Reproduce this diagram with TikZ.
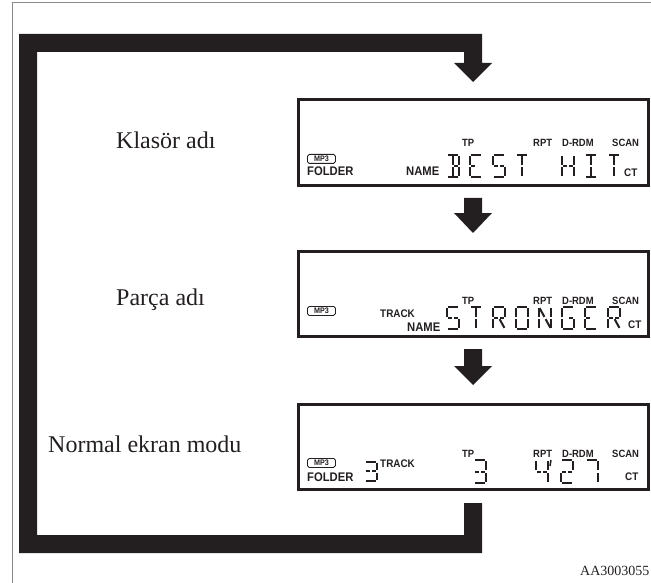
\documentclass[tikz,border=0pt]{standalone}
\usepackage{fontspec}
\setmainfont{Liberation Serif}
\newfontfamily\lcdfont[FakeStretch=0.9]{Liberation Sans}
\definecolor{ink}{HTML}{231F20}
\definecolor{framegray}{HTML}{8A8A8A}
\tikzset{
  lcdbox/.style={draw=ink, line width=2.8pt, inner sep=0pt, anchor=north west},
  seg/.style={ink, line width=2pt, shorten <=1.3pt, shorten >=1.3pt},
  lcdlab/.style={text=ink, inner sep=0pt, anchor=base west, font=\lcdfont\bfseries\fontsize{10.5}{10.5}\selectfont},
  lcdmid/.style={lcdlab, font=\lcdfont\bfseries\fontsize{11}{11}\selectfont},
  lcdbig/.style={lcdlab, font=\lcdfont\bfseries\fontsize{12.5}{12.5}\selectfont},
  mpbox/.style={draw=ink, line width=0.9pt, rounded corners=1.8pt, inner sep=0pt, anchor=north west,
    minimum width=28pt, minimum height=9pt, text=ink, font=\lcdfont\bfseries\fontsize{8}{8}\selectfont},
  title/.style={text=ink, inner sep=0pt, anchor=base west, font=\fontsize{24}{24}\selectfont},
}
\newcommand\lsega{\draw[seg] (0,0) -- (12,0);}
\newcommand\lsegb{\draw[seg] (12,0) -- (12,11);}
\newcommand\lsegc{\draw[seg] (12,11) -- (12,22);}
\newcommand\lsegd{\draw[seg] (0,22) -- (12,22);}
\newcommand\lsege{\draw[seg] (0,11) -- (0,22);}
\newcommand\lsegf{\draw[seg] (0,0) -- (0,11);}
\newcommand\lseggl{\draw[seg] (0,11) -- (6,11);}
\newcommand\lseggr{\draw[seg] (6,11) -- (12,11);}
\newcommand\lsegh{\draw[seg] (0,0) -- (6,11);}
\newcommand\lsegi{\draw[seg] (6,0) -- (6,11);}
\newcommand\lsegj{\draw[seg] (12,0) -- (6,11);}
\newcommand\lsegk{\draw[seg] (6,11) -- (0,22);}
\newcommand\lsegl{\draw[seg] (6,11) -- (6,22);}
\newcommand\lsegm{\draw[seg] (6,11) -- (12,22);}
% \lcdchar[yscale]{x}{ytop}{segments}
\newcommand\lcdchar[4][1]{\begin{scope}[shift={(#2,#3)},yscale=#1]\foreach \s in {#4}{\csname lseg\s\endcsname}\end{scope}}
\newcommand\blockarrow[4]{% x centre, y top, head start, tip
  \fill[ink] (#1-9,#2) -- (#1+9,#2) -- (#1+9,#3) -- (#1+19,#3) -- (#1,#4) -- (#1-19,#3) -- (#1-9,#3) -- cycle;}
\begin{document}
\begin{tikzpicture}[x=1pt,y=-1pt]
\useasboundingbox (0,0) rectangle (651,583);
\begin{scope}
  \clip (0,0) rectangle (651,583);
  \draw[framegray, line width=1pt] (12,3) rectangle (700,650);
\end{scope}

% displays
\node[lcdbox, minimum width=350pt, minimum height=86pt] (d1) at (297,98) {};
\node[lcdbox, minimum width=350pt, minimum height=85pt] (d2) at (297,250) {};
\node[lcdbox, minimum width=350pt, minimum height=85pt] (d3) at (297,403) {};

% loop arrow
\fill[ink] (19,34) -- (482,34) -- (482,63) -- (492,63) -- (473,82) -- (454,63) -- (464,63)
  -- (464,52) -- (37,52) -- (37,535) -- (464,535) -- (464,503) -- (482,503) -- (482,553)
  -- (19,553) -- cycle;
\blockarrow{473}{198}{213}{233}
\blockarrow{473}{349}{366}{385}

% titles
\node[title] (t1) at (116,149) {Klasör adı};
\node[title] (t2) at (116,305) {Parça adı};
\node[title] (t3) at (48,452) {Normal ekran modu};
\node[inner sep=0pt, anchor=base west, text=ink, font=\fontsize{14}{14}\selectfont] (code) at (580,575) {AA3003055};

% display 1
\node[mpbox] (m1) at (307,154) {MP3};
\node[lcdbig] (f1) at (307,176) {FOLDER};
\node[lcdbig] (n1) at (406,176) {NAME};
\node[lcdlab] (tp1) at (462,147) {TP};
\node[lcdlab] (rp1) at (533,147) {RPT};
\node[lcdlab] (dr1) at (562,147) {D-RDM};
\node[lcdlab] (sc1) at (612,147) {SCAN};
\node[lcdmid] (ct1) at (624,177) {CT};
\lcdchar{447}{155}{a,b,c,d,i,l,gr}
\lcdchar{470}{155}{a,d,e,f,gl}
\lcdchar{493}{155}{a,f,gl,gr,c,d}
\lcdchar{516}{155}{a,i,l}
\lcdchar{562}{155}{b,c,e,f,gl,gr}
\lcdchar{585}{155}{a,d,i,l}
\lcdchar{608}{155}{a,i,l}

% display 2
\node[mpbox] (m2) at (307,306) {MP3};
\node[lcdmid] (tr2) at (380,317) {TRACK};
\node[lcdbig] (n2) at (407,331) {NAME};
\node[lcdlab] (tp2) at (462,304) {TP};
\node[lcdlab] (rp2) at (533,304) {RPT};
\node[lcdlab] (dr2) at (562,304) {D-RDM};
\node[lcdlab] (sc2) at (612,304) {SCAN};
\node[lcdmid] (ct2) at (628,328) {CT};
\lcdchar{447}{307}{a,f,gl,gr,c,d}
\lcdchar{470}{307}{a,i,l}
\lcdchar{493}{307}{a,b,f,e,gl,gr,m}
\lcdchar{516}{307}{a,b,c,d,e,f}
\lcdchar{539}{307}{b,c,e,f,h,m}
\lcdchar{562}{307}{a,f,e,d,c,gr}
\lcdchar{585}{307}{a,d,e,f,gl}
\lcdchar{608}{307}{a,b,f,e,gl,gr,m}

% display 3
\node[mpbox] (m3) at (307,458) {MP3};
\node[lcdbig] (f3) at (307,481) {FOLDER};
\lcdchar[0.86]{365}{462}{a,b,c,d,gl,gr}
\node[lcdmid] (tr3) at (380,467) {TRACK};
\node[lcdlab] (tp3) at (462,457) {TP};
\node[lcdlab] (rp3) at (533,457) {RPT};
\node[lcdlab] (dr3) at (562,457) {D-RDM};
\node[lcdlab] (sc3) at (612,457) {SCAN};
\node[lcdmid] (ct3) at (625,480) {CT};
\lcdchar[1.05]{474}{460}{a,b,c,d,gl,gr}
\lcdchar[1.05]{536}{460}{f,gl,gr,b,c}
\draw[seg, shorten <=0pt, shorten >=0pt, line width=1.5pt] (551,460) -- (550,466);
\lcdchar[1.05]{561}{460}{a,b,gl,gr,e,d}
\lcdchar[1.05]{586}{460}{a,b,c}
\end{tikzpicture}
\end{document}
